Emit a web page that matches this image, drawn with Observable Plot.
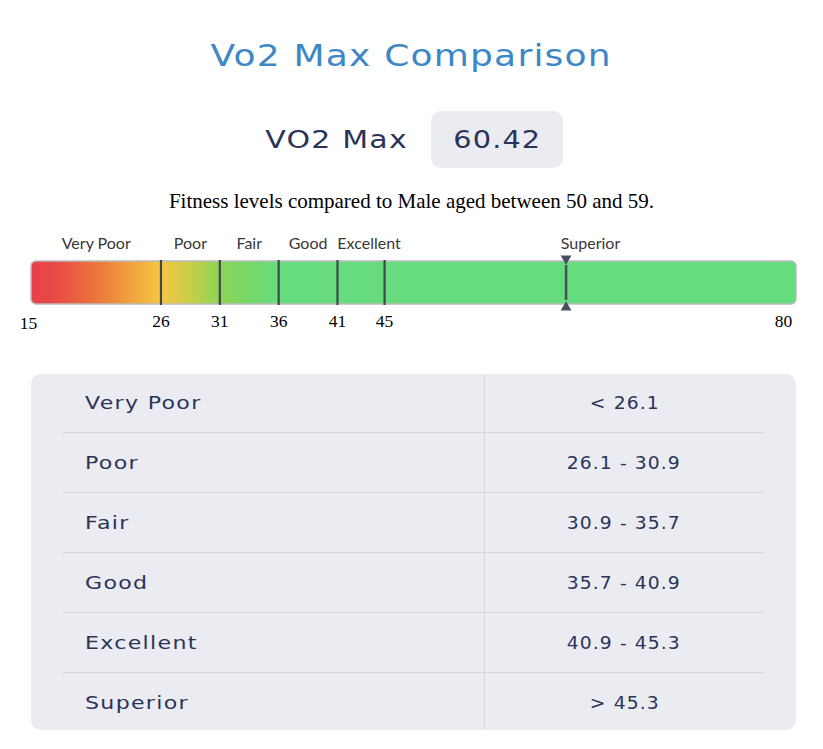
<!DOCTYPE html>
<html>
<head>
<meta charset="utf-8">
<script src="https://cdn.jsdelivr.net/npm/d3@7"></script>
<script src="https://cdn.jsdelivr.net/npm/@observablehq/plot@0.6"></script>
<style>
  html, body { margin: 0; padding: 0; background: #ffffff; }
  #page { position: relative; width: 823px; height: 749px; overflow: hidden; }
  .tech { font-family: "DejaVu Sans", sans-serif; }
  .sx { display: inline-block; white-space: nowrap; }
  #title { position: absolute; left: 0; width: 823px; top: 38px; text-align: center;
           font-size: 30px; color: #3e87c7; line-height: 35px; white-space: nowrap; }
  #title .sx { transform: scaleX(1.2); transform-origin: center; letter-spacing: 1px; }
  #vlabel { position: absolute; left: 200px; width: 208px; top: 125px; text-align: right;
            font-size: 25px; color: #2a3458; line-height: 29px; white-space: nowrap; }
  #vlabel .sx { transform: scaleX(1.2); transform-origin: right; letter-spacing: 1px; }
  #vbox { position: absolute; left: 431px; top: 111px; width: 132px; height: 57px; background: #ebebf2;
          border-radius: 10px; display: flex; align-items: center; justify-content: center;
          font-size: 25px; color: #2a3458; }
  #vbox .sx { transform: scaleX(1.15); transform-origin: center; letter-spacing: 1px; }
  #subtitle { position: absolute; left: 0; width: 823px; top: 189px; text-align: center;
              font-family: "Liberation Serif", serif; font-size: 21px; color: #000; line-height: 24px; white-space: nowrap; }
  #chart { position: absolute; left: 0; top: 225px; }
  #tablebox { position: absolute; left: 31px; top: 374px; width: 765px; height: 356px; background: #ebebf2;
              border-radius: 10px; padding: 0 31px; box-sizing: border-box; overflow: hidden; }
  #tablebox table { width: 702px; border-collapse: collapse; table-layout: fixed; }
  #tablebox td { font-size: 17px; color: #2a3458; height: 59px; padding: 0;
                 border-bottom: 1.5px solid #d6d8e1; white-space: nowrap; }
  #tablebox tr:first-child td { height: 58.3px; }
  #tablebox tr:last-child td { border-bottom: none; height: 60px; }
  #tablebox td.l { width: 422px; padding-left: 23px; box-sizing: border-box; }
  #tablebox td.l .sx { transform: scaleX(1.3); transform-origin: left; letter-spacing: 1px; }
  #tablebox td.r { text-align: center; border-left: 1.5px solid #d6d8e1; }
  #tablebox td.r .sx { transform: scaleX(1.1); transform-origin: center; letter-spacing: 1px; }
</style>
</head>
<body>
<div id="page">
  <div id="title" class="tech"><span class="sx"></span></div>
  <div id="vlabel" class="tech"><span class="sx"></span></div>
  <div id="vbox" class="tech"><span class="sx"></span></div>
  <div id="subtitle"></div>
  <div id="chart"></div>
  <div id="tablebox" class="tech"><table id="tbl"></table></div>
</div>
<script>
// ---- data ----
const titleText = "Vo2 Max Comparison";
const valueLabel = "VO2 Max";
const vo2max = 60.42;
const subtitleText = "Fitness levels compared to Male aged between 50 and 59.";
const levels = ["Very Poor", "Poor", "Fair", "Good", "Excellent", "Superior"];
const levelStart = [15, 26, 31, 36, 41, 45];
const levelEnd = [26, 31, 36, 41, 45, 80];
const levelRanges = ["< 26.1", "26.1 - 30.9", "30.9 - 35.7", "35.7 - 40.9", "40.9 - 45.3", "> 45.3"];
const tickValues = [15, 26, 31, 36, 41, 45, 80];
const dividerValues = [26, 31, 36, 41, 45];
const gradientValues = [15, 17, 21, 24, 26, 28.5, 31, 34, 36, 80];
const gradientColors = ["#e6404a", "#e84a45", "#ec7c3c", "#f1a93f", "#f6c745", "#c9cd47", "#8ed456", "#73d86c", "#67dc7e", "#67dc7e"];

// ---- text parts ----
document.querySelector("#title .sx").textContent = titleText;
document.querySelector("#vlabel .sx").textContent = valueLabel;
document.querySelector("#vbox .sx").textContent = vo2max.toFixed(2);
document.getElementById("subtitle").textContent = subtitleText;

const tbl = document.getElementById("tbl");
levels.forEach((name, i) => {
  const tr = document.createElement("tr");
  const a = document.createElement("td"); a.className = "l";
  const sa = document.createElement("span"); sa.className = "sx"; sa.textContent = name; a.appendChild(sa);
  const b = document.createElement("td"); b.className = "r";
  const sb = document.createElement("span"); sb.className = "sx"; sb.textContent = levelRanges[i]; b.appendChild(sb);
  tr.appendChild(a); tr.appendChild(b); tbl.appendChild(tr);
});

// ---- chart ----
const segments = levels.map((name, i) => ({name, x1: levelStart[i], x2: levelEnd[i], mid: (levelStart[i] + levelEnd[i]) / 2}));
const bar = [{x1: tickValues[0], x2: tickValues[tickValues.length - 1]}];
const innerTicks = tickValues.slice(1, -1);
const labelFont = {fontFamily: "Lato, sans-serif", fontSize: 16, fill: "#383838"};
const tickFont = {fontFamily: "Liberation Serif, serif", fontSize: 17.5, fill: "#000"};

const chart = Plot.plot({
  width: 823,
  height: 120,
  marginLeft: 31,
  marginRight: 27,
  marginTop: 0,
  marginBottom: 0,
  x: {domain: [15, 80], axis: null},
  y: {domain: [0, 1], range: [79, 36], axis: null},
  style: {background: "transparent"},
  marks: [
    Plot.rect(bar, {
      x1: "x1", x2: "x2", y1: () => 0, y2: () => 1,
      fill: "url(#vo2grad)", stroke: "#bcbcbc", strokeWidth: 1.5, rx: 5,
      render(index, scales, values, dimensions, context, next) {
        const g = next(index, scales, values, dimensions, context);
        const x0 = scales.x(gradientValues[0]);
        const xn = scales.x(gradientValues[gradientValues.length - 1]);
        const defs = d3.create("svg:defs");
        const lg = defs.append("linearGradient")
          .attr("id", "vo2grad").attr("gradientUnits", "userSpaceOnUse")
          .attr("x1", x0).attr("x2", xn).attr("y1", 0).attr("y2", 0);
        gradientValues.forEach((v, i) => {
          lg.append("stop").attr("offset", (scales.x(v) - x0) / (xn - x0)).attr("stop-color", gradientColors[i]);
        });
        g.insertBefore(defs.node(), g.firstChild);
        return g;
      }
    }),
    Plot.ruleX(dividerValues, {y1: () => 0, y2: () => 1, stroke: "#3f4949", strokeWidth: 2.2, insetTop: 1, insetBottom: 1}),
    Plot.ruleX([vo2max], {y1: () => 0, y2: () => 1, stroke: "#474f5e", strokeWidth: 2.5, insetTop: -4, insetBottom: -4}),
    Plot.dot([vo2max], {x: d => d, y: () => 1, symbol: "triangle", rotate: 180, r: 4, fill: "#474f5e", dy: -3}),
    Plot.dot([vo2max], {x: d => d, y: () => 0, symbol: "triangle", r: 4, fill: "#474f5e", dy: 3}),
    Plot.text(segments.filter(d => d.name !== "Excellent"), {
      x: "mid", y: () => 1, text: "name", dy: -18, lineAnchor: "middle", ...labelFont
    }),
    Plot.text(segments.filter(d => d.name === "Excellent"), {
      x: "mid", y: () => 1, text: "name", dy: -18, dx: 8, lineAnchor: "middle", ...labelFont
    }),
    Plot.text(innerTicks, {
      x: d => d, y: () => 0, text: d => String(d), dy: 17, lineAnchor: "middle", ...tickFont
    }),
    Plot.text([tickValues[0]], {
      x: d => d, y: () => 0, text: d => String(d), dy: 19, dx: -3, lineAnchor: "middle", ...tickFont
    }),
    Plot.text([tickValues[tickValues.length - 1]], {
      x: d => d, y: () => 0, text: d => String(d), dy: 17, dx: -13, lineAnchor: "middle", ...tickFont
    })
  ]
});
document.getElementById("chart").appendChild(chart);
</script>
</body>
</html>
